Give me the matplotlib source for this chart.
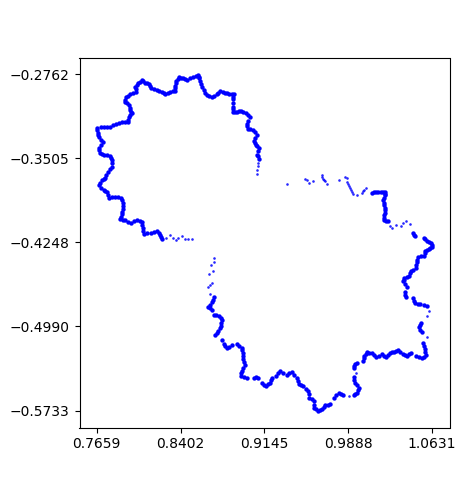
import matplotlib
matplotlib.use("Agg")
import matplotlib.pyplot as plt

x_ticks = [0.7659, 0.8402, 0.9145, 0.9888, 1.0631]
y_ticks = [-0.2762, -0.3505, -0.4248, -0.4990, -0.5733]

arm1_x = [.9094,.9086,.9080,.9086,.9094,.9083,.9071,.9060,.9050,.9064,.9077,.9060,.9041,.9018,.8997,.8990,.8988,.9003,.9018,.8998,.8979,.8957,.8935,.8917,.8900,.8885,.8870,.8866,.8864,.8864,.8864,.8870,.8876,.8855,.8835,.8815,.8796,.8774,.8752,.8737,.8723,.8700,.8678,.8656,.8634,.8622,.8610,.8595,.8581,.8575,.8569,.8562,.8554,.8535,.8516,.8490,.8463,.8445,.8428,.8410,.8392,.8377,.8363,.8360,.8357,.8355,.8354,.8332,.8310,.8289,.8268,.8252,.8236,.8214,.8192,.8165,.8138,.8128,.8118,.8103,.8088,.8073,.8059,.8044,.8029,.8014,.8000,.8009,.8009,.7982,.7956,.7936,.7917,.7912,.7911,.7928,.7944,.7950,.7956,.7963,.7970,.7957,.7944,.7938,.7932,.7907,.7882,.7857,.7832,.7805,.7779,.7752,.7725,.7693,.7661,.7665,.7669,.7672,.7675,.7695,.7714,.7698,.7681,.7682,.7684,.7705,.7725,.7749,.7773,.7786,.7799,.7798,.7793,.7774,.7755,.7745,.7734,.7720,.7705,.7690,.7675,.7698,.7720,.7735,.7749,.7757,.7764,.7793,.7823,.7848,.7873,.7882,.7891,.7890,.7888,.7885,.7882,.7875,.7867,.7889,.7911,.7936,.7961,.7990,.8020,.8040,.8059,.8064,.8068,.8073,.8079,.8108,.8138,.8165,.8192,.8207,.8221,.8230,.8239]
arm1_y = [-.3508,-.3490,-.3473,-.3445,-.3414,-.3400,-.3390,-.3373,-.3355,-.3330,-.3302,-.3275,-.3252,-.3247,-.3243,-.3224,-.3204,-.3175,-.3145,-.3125,-.3110,-.3098,-.3086,-.3092,-.3098,-.3100,-.3095,-.3073,-.3051,-.3018,-.2986,-.2964,-.2942,-.2940,-.2939,-.2932,-.2927,-.2918,-.2909,-.2927,-.2942,-.2953,-.2963,-.2957,-.2951,-.2928,-.2904,-.2877,-.2850,-.2825,-.2800,-.2785,-.2771,-.2778,-.2786,-.2800,-.2815,-.2808,-.2800,-.2795,-.2791,-.2805,-.2821,-.2845,-.2868,-.2888,-.2909,-.2913,-.2918,-.2930,-.2942,-.2930,-.2918,-.2911,-.2904,-.2897,-.2889,-.2870,-.2850,-.2845,-.2839,-.2827,-.2815,-.2830,-.2845,-.2860,-.2874,-.2897,-.2918,-.2928,-.2939,-.2953,-.2968,-.2988,-.3007,-.3022,-.3036,-.3058,-.3081,-.3095,-.3110,-.3128,-.3145,-.3164,-.3184,-.3184,-.3184,-.3192,-.3199,-.3216,-.3234,-.3231,-.3228,-.3232,-.3237,-.3259,-.3281,-.3302,-.3322,-.3342,-.3361,-.3386,-.3411,-.3435,-.3458,-.3465,-.3473,-.3480,-.3488,-.3502,-.3517,-.3550,-.3582,-.3604,-.3626,-.3650,-.3676,-.3685,-.3694,-.3720,-.3744,-.3764,-.3783,-.3793,-.3803,-.3828,-.3853,-.3850,-.3848,-.3850,-.3853,-.3877,-.3901,-.3926,-.3951,-.3976,-.4001,-.4022,-.4042,-.4048,-.4054,-.4066,-.4078,-.4063,-.4048,-.4058,-.4069,-.4094,-.4119,-.4145,-.4172,-.4169,-.4166,-.4157,-.4148,-.4167,-.4187,-.4202,-.4216]

arm2_x = [1.0096,1.0115,1.0134,1.0155,1.0175,1.0196,1.0217,1.0216,1.0214,1.0206,1.0199,1.0202,1.0205,1.0210,1.0214,1.0211,1.0208,1.0206,1.0205,1.0224,1.0243,
 1.0459,1.0469,1.0479,
 1.0559,1.0571,1.0583,1.0600,1.0618,1.0626,1.0633,1.0616,1.0600,1.0584,1.0568,1.0565,1.0562,1.0535,1.0509,1.0501,1.0494,1.0490,1.0485,1.0463,1.0441,1.0435,1.0429,1.0405,1.0382,1.0379,1.0376,1.0390,1.0405,
 1.0392,1.0395,1.0398,
 1.0466,1.0473,1.0480,1.0503,1.0525,1.0555,1.0584,
 1.0533,1.0523,1.0513,1.0526,1.0539,
 1.0554,1.0562,1.0569,1.0572,1.0575,1.0557,1.0539,1.0514,1.0489,
 1.0445,1.0428,1.0412,1.0392,1.0371,1.0350,1.0330,1.0312,1.0294,1.0276,1.0259,1.0242,1.0224,1.0205,1.0185,1.0160,1.0135,1.0116,1.0097,1.0075,1.0053,1.0041,1.0029,1.0026,1.0023]
arm2_y = [-.3810,-.3808,-.3804,-.3802,-.3801,-.3802,-.3804,-.3819,-.3834,-.3853,-.3872,-.3897,-.3922,-.3944,-.3966,-.3989,-.4011,-.4030,-.4049,-.4056,-.4064,
 -.4167,-.4180,-.4194,
 -.4208,-.4220,-.4232,-.4243,-.4253,-.4269,-.4285,-.4297,-.4309,-.4317,-.4326,-.4345,-.4365,-.4372,-.4380,-.4402,-.4424,-.4449,-.4474,-.4488,-.4503,-.4522,-.4542,-.4552,-.4562,-.4578,-.4592,-.4615,-.4639,
 -.4690,-.4710,-.4729,
 -.4740,-.4765,-.4788,-.4792,-.4794,-.4801,-.4808,
 -.4956,-.4978,-.5000,-.5022,-.5044,
 -.5133,-.5162,-.5192,-.5217,-.5242,-.5257,-.5271,-.5262,-.5251,
 -.5221,-.5236,-.5251,-.5240,-.5230,-.5214,-.5198,-.5206,-.5215,-.5218,-.5221,-.5241,-.5260,-.5248,-.5236,-.5248,-.5260,-.5243,-.5227,-.5222,-.5218,-.5236,-.5251,-.5273,-.5295]

arm3_x = [.9964,.9952,.9940,.9943,
 .9935,.9942,.9949,.9967,.9985,.9975,.9964,.9950,.9935,
 .9837,.9820,.9802,.9783,.9763,
 .9728,.9706,.9684,.9670,.9655,.9639,.9623,.9603,.9584,.9584,.9584,.9563,.9543,.9538,.9534,.9512,.9490,.9472,.9455,.9443,.9431,.9409,.9387,.9365,.9343,.9313,.9284,.9266,.9248,
 .9210,.9202,.9195,.9178,.9160,.9140,.9121,
 .9086,.9070,.9053,
 .8989,.8962,.8935,.8939,.8944,.8959,.8974,.8963,.8953,.8953,.8953,.8949,.8944,.8922,.8900,
 .8856,.8834,.8812,.8800,.8788,
 .8773,.8708,.8723,.8738,.8748,.8758,.8763,.8767,.8757,.8747,.8720,.8694,
 .8679,.8664,.8649,.8664,.8679,.8689,.8699]
arm3_y = [-.5310,-.5325,-.5339,-.5360,
 -.5437,-.5462,-.5487,-.5509,-.5531,-.5553,-.5575,-.5587,-.5596,
 -.5596,-.5585,-.5575,-.5597,-.5620,
 -.5679,-.5682,-.5684,-.5703,-.5723,-.5732,-.5738,-.5724,-.5709,-.5680,-.5650,-.5635,-.5620,-.5590,-.5561,-.5539,-.5517,-.5506,-.5496,-.5470,-.5443,-.5416,-.5390,-.5405,-.5419,-.5402,-.5384,-.5406,-.5428,
 -.5443,-.5465,-.5487,-.5502,-.5517,-.5505,-.5493,
 -.5443,-.5440,-.5443,
 -.5443,-.5436,-.5428,-.5406,-.5384,-.5358,-.5331,-.5306,-.5281,-.5252,-.5222,-.5200,-.5178,-.5160,-.5142,
 -.5157,-.5168,-.5178,-.5163,-.5148,
 -.5110,-.5068,-.5049,-.5030,-.5008,-.4986,-.4961,-.4936,-.4916,-.4897,-.4894,-.4891,
 -.4847,-.4831,-.4815,-.4797,-.4779,-.4757,-.4735]

sparse_x = [.9077,.9077,.9089,.9089,
 .8274,.8310,.8333,.8360,.8383,.8413,.8442,.8472,.8507,
 .9349,.9506,.9526,.9544,.9580,
 .9653,.9658,.9662,.9672,.9683,.9703,
 .9810,.9860,.9877,.9880,.9889,.9898,.9906,.9913,.9920,.9928,
 .9969,1.0013,1.0022,1.0031,1.0046,
 1.0258,1.0273,1.0311,1.0352,1.0376,1.0400,1.0435,
 1.0604,1.0589,1.0584,.9958,.9899,
 .8664,.8649,.8667,.8685,.8658,.8688,.8676,.8702,.8694]
sparse_y = [-.3641,-.3606,-.3576,-.3547,
 -.4207,-.4184,-.4207,-.4231,-.4213,-.4196,-.4216,-.4216,-.4216,
 -.3731,-.3686,-.3695,-.3722,-.3710,
 -.3657,-.3672,-.3686,-.3697,-.3707,-.3736,
 -.3695,-.3672,-.3677,-.3716,-.3735,-.3754,-.3772,-.3790,-.3805,-.3819,
 -.3828,-.3810,-.3797,-.3784,-.3766,
 -.4105,-.4123,-.4093,-.4105,-.4079,-.4064,-.4085,
 -.4858,-.4897,-.5083,-.5398,-.5605,
 -.4700,-.4641,-.4622,-.4605,-.4529,-.4499,-.4449,-.4419,-.4384]

fig = plt.figure(figsize=(4.62, 4.80), dpi=100)
ax = fig.add_axes([79.5/462, (480-427.5)/480, 370/462, 369.5/480])
for xs, ys in [(arm1_x, arm1_y), (arm2_x, arm2_y), (arm3_x, arm3_y)]:
    ax.scatter(xs, ys, s=10, c="blue", linewidths=0)
ax.scatter(sparse_x, sparse_y, s=3.5, c="blue", alpha=0.85, linewidths=0)
ax.set_xlim(0.75066, 1.07851)
ax.set_ylim(-0.5883, -0.26204)
ax.set_xticks(x_ticks)
ax.set_xticklabels([f"{v:.4f}" for v in x_ticks])
ax.set_yticks(y_ticks)
ax.set_yticklabels([f"\u2212{abs(v):.4f}" for v in y_ticks])
fig.savefig("out.png", dpi=100)
